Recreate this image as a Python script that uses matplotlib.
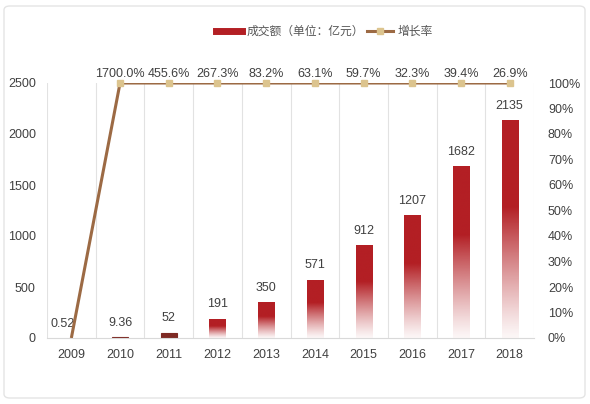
import numpy as np
import matplotlib
matplotlib.use("Agg")
import matplotlib.pyplot as plt
from matplotlib.lines import Line2D
from matplotlib.patches import FancyBboxPatch
from matplotlib.ticker import FuncFormatter, MultipleLocator

plt.rcParams['font.family'] = ['Liberation Sans', 'Noto Sans CJK SC', 'DejaVu Sans']

years = ['2009', '2010', '2011', '2012', '2013', '2014', '2015', '2016', '2017', '2018']
amount = [0.52, 9.36, 52, 191, 350, 571, 912, 1207, 1682, 2135]
amount_labels = ['0.52', '9.36', '52', '191', '350', '571', '912', '1207', '1682', '2135']
# growth rate as entered in the source sheet (percentage numbers on a 0-100% axis)
growth = [0.0, 1700.0, 455.6, 267.3, 83.2, 63.1, 59.7, 32.3, 39.4, 26.9]
growth_labels = ['', '1700.0%', '455.6%', '267.3%', '83.2%', '63.1%', '59.7%', '32.3%', '39.4%', '26.9%']

RED = '#b31f24'
BROWN = '#9c6a44'
TAN = '#dcc48e'
TXT = '#404040'

fig = plt.figure(figsize=(5.9, 4.04), dpi=100)
fig.patches.append(FancyBboxPatch((4/590, 6/404), 581/590, 392/404,
                                  boxstyle='round,pad=0,rounding_size=0.01',
                                  transform=fig.transFigure, fc='white',
                                  ec='#e4e4e4', lw=1.0, zorder=-10))

ax = fig.add_axes([47/590, 1-338/404, 487/590, 255/404])
ax.set_facecolor('none')
x = np.arange(len(years))
ax.set_xlim(-0.5, len(years)-0.5)
ax.set_ylim(0, 2500)

# invisible bars, then gradient images clipped to them
bw = 0.33
bars = ax.bar(x, amount, width=bw, color='none', edgecolor='none', zorder=2)
rgb = np.array(matplotlib.colors.to_rgb(RED))
n = 256
t = np.linspace(0, 1, n)  # 0 bottom -> 1 top
alpha = np.clip(t / 0.6, 0, 1) ** 1.2
alpha = 0.04 + 0.96 * alpha
grad = np.zeros((n, 2, 4))
grad[:, :, :3] = rgb
grad[:, :, 3] = alpha[:, None]
for b in bars:
    x0 = b.get_x(); h = b.get_height()
    if h < 5:
        continue
    if h < 60:
        b.set_facecolor('#7e2a24')
        b.set_edgecolor('#7e2a24')
        b.set_linewidth(0.8)
        continue
    im = ax.imshow(grad, extent=(x0, x0 + bw, 0, h), origin='lower',
                   aspect='auto', zorder=2, interpolation='bilinear')
    im.set_clip_path(b)

# vertical category gridlines
for xb in np.arange(-0.5, len(years), 1.0):
    ax.axvline(xb, color='#e2e2e2', lw=0.8, zorder=1)

for s in ['left', 'right', 'top']:
    ax.spines[s].set_visible(False)
ax.spines['bottom'].set_color('#d9d9d9')
ax.set_xticks(x)
ax.set_xticklabels(years)
ax.yaxis.set_major_locator(MultipleLocator(500))
ax.tick_params(axis='both', length=0, labelsize=9, labelcolor=TXT)
ax.tick_params(axis='x', pad=8)
ax.tick_params(axis='y', pad=8)

# bar value labels
for i, (v, lab) in enumerate(zip(amount, amount_labels)):
    dx = -0.18 if i == 0 else 0
    ax.annotate(lab, (i + dx, v), xytext=(0, 6), textcoords='offset points',
                ha='center', va='bottom', fontsize=9, color=TXT, zorder=5)

# growth line on secondary axis (off-scale values sit at the plot edge)
ax2 = ax.twinx()
ax2.set_ylim(0, 1)
shown = np.minimum(np.array(growth), 1.0)
ax2.plot(x, shown, color=BROWN, lw=2.2, zorder=3, solid_capstyle='butt')
ax2.plot(x[1:], shown[1:], ls='none', marker='s', ms=4.5, color=TAN,
         mec=TAN, zorder=4, clip_on=False)
for i, lab in enumerate(growth_labels):
    if lab:
        ax2.annotate(lab, (i, shown[i]), xytext=(0, 2.5), textcoords='offset points',
                     ha='center', va='bottom', fontsize=9, color=TXT,
                     annotation_clip=False)
for s in ['left', 'right', 'top', 'bottom']:
    ax2.spines[s].set_visible(False)
ax2.yaxis.set_major_locator(MultipleLocator(0.1))
ax2.yaxis.set_major_formatter(FuncFormatter(lambda v, p: f'{v*100:.0f}%'))
ax2.tick_params(axis='y', length=0, labelsize=9, labelcolor=TXT, pad=10)

handles = [Line2D([0], [0], color=RED, lw=5),
           Line2D([0], [0], color=BROWN, lw=2.2, marker='s', ms=4.5, mfc=TAN, mec=TAN)]
fig.legend(handles, ['成交额（单位：亿元）', '增长率'], loc='center',
           bbox_to_anchor=(0.55, 1-32/404), ncol=2, frameon=False,
           fontsize=8.5, labelcolor='#555555', handlelength=2.2,
           handletextpad=0.35, columnspacing=0.3)

fig.savefig('out.png', dpi=100)
